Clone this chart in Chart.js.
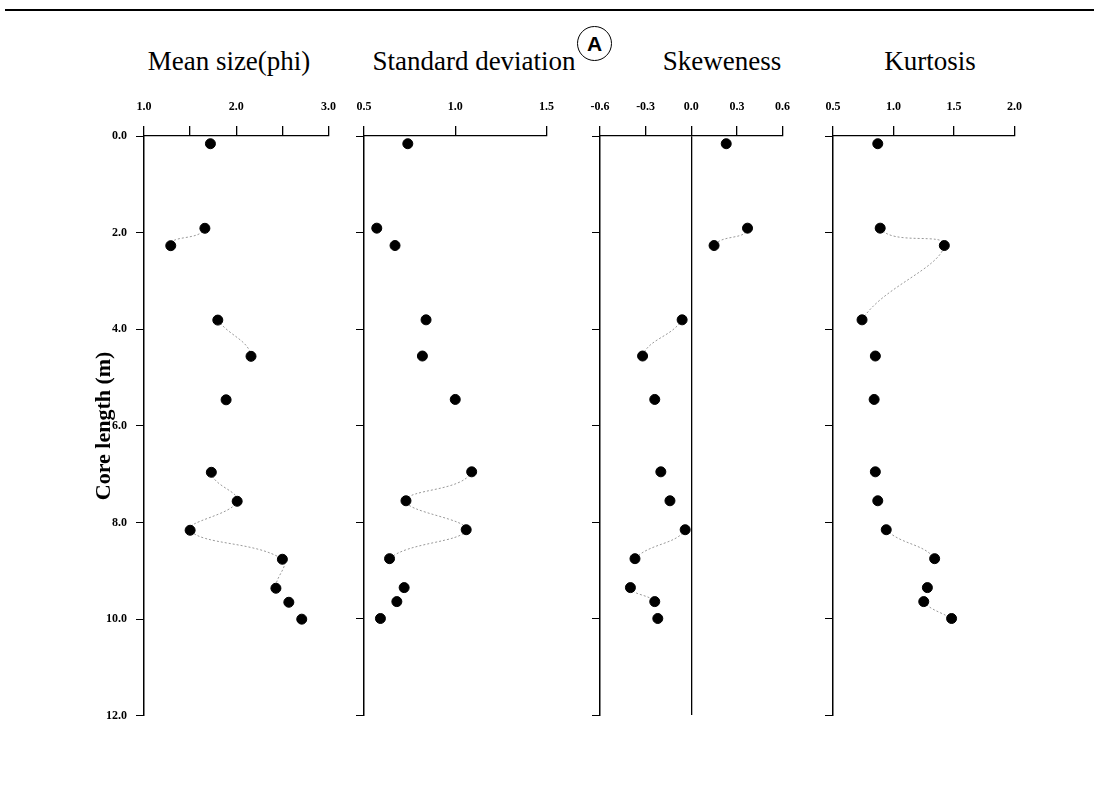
<!DOCTYPE html>
<html>
<head>
<meta charset="utf-8">
<script src="https://cdn.jsdelivr.net/npm/chart.js@4.4.1/dist/chart.umd.min.js"></script>
<style>
  body { margin: 0; background: #fff; }
  #wrap { position: relative; width: 1094px; height: 790px; overflow: hidden; }
  canvas { position: absolute; }
  .titulo { position: absolute; font-family: 'Liberation Serif', serif; font-size: 27px; color: #000; white-space: nowrap; transform: translateX(-50%); }
</style>
</head>
<body>
<div id="wrap">
  <div style="position:absolute;left:5px;top:9px;width:1089px;height:2px;background:#000"></div>
  <div style="position:absolute;left:577px;top:26px;width:33px;height:33px;border:1.5px solid #000;border-radius:50%;font:bold 21px 'Liberation Sans',sans-serif;text-align:center;line-height:34px">A</div>
  <div class="titulo" style="left:229px;top:46px">Mean size(phi)</div>
  <div class="titulo" style="left:474px;top:46px">Standard deviation</div>
  <div class="titulo" style="left:722px;top:46px">Skeweness</div>
  <div class="titulo" style="left:930px;top:46px">Kurtosis</div>
  <canvas id="media" width="268" height="642" style="left:80px;top:90px"></canvas>
  <canvas id="desvio" width="224" height="635" style="left:342px;top:90px"></canvas>
  <canvas id="assimetria" width="224" height="635" style="left:578px;top:90px"></canvas>
  <canvas id="curtose" width="223" height="635" style="left:811px;top:90px"></canvas>
</div>
<script>
// profundidade das amostras (m)
const depths = [0.16, 1.91, 2.27, 3.81, 4.56, 5.46, 6.96, 7.56, 8.16, 8.76, 9.36, 9.65, 10.0];

const meanSize = [1.72, 1.66, 1.29, 1.80, 2.16, 1.89, 1.73, 2.01, 1.50, 2.50, 2.43, 2.57, 2.71];
const stdDev   = [0.74, 0.57, 0.67, 0.84, 0.82, 1.00, 1.09, 0.73, 1.06, 0.64, 0.72, 0.68, 0.59];
const skewness = [0.23, 0.37, 0.15, -0.06, -0.32, -0.24, -0.20, -0.14, -0.04, -0.37, -0.40, -0.24, -0.22];
const kurtosis = [0.87, 0.89, 1.42, 0.74, 0.85, 0.84, 0.85, 0.87, 0.94, 1.34, 1.28, 1.25, 1.48];

// eixos x: [min, max, passo]
const meanAxis = [1.0, 3.0, 0.5];
const stdAxis  = [0.5, 1.5, 0.5];
const skewAxis = [-0.6, 0.6, 0.3];
const kurtAxis = [0.5, 2.0, 0.5];

const depthAxis = [0, 12, 2];

// trechos da linha que aparecem (indice do ponto inicial)
const meanSegments = [1, 3, 6, 7, 8, 9];
const stdSegments  = [6, 7, 8];
const skewSegments = [1, 3, 8, 10];
const kurtSegments = [1, 2, 8, 11];

const fonteTick = { family: 'Liberation Serif', size: 12, weight: 'bold' };

function montaPontos(valores) {
  return valores.map((v, i) => ({ x: v, y: depths[i] }));
}

function criaGrafico(id, valores, eixo, trechos, comRotulos, labelsInteiros, linhaZero) {
  const ctx = document.getElementById(id);
  return new Chart(ctx, {
    type: 'scatter',
    data: {
      datasets: [{
        data: montaPontos(valores),
        showLine: true,
        tension: 0.4,
        borderWidth: 1,
        borderDash: [2, 2],
        borderColor: '#999',
        segment: {
          borderColor: s => trechos.includes(s.p0DataIndex) ? '#999' : 'rgba(0,0,0,0)'
        },
        pointRadius: 5,
        pointHoverRadius: 5,
        pointBackgroundColor: '#000',
        pointBorderColor: '#000',
        clip: false
      }]
    },
    options: {
      responsive: false,
      animation: false,
      events: [],
      layout: { padding: { left: comRotulos ? 4 : 12, right: 12, top: 0, bottom: comRotulos ? 3 : 10 } },
      plugins: { legend: { display: false }, tooltip: { enabled: false } },
      scales: {
        x: {
          type: 'linear',
          position: 'top',
          min: eixo[0],
          max: eixo[1],
          ticks: {
            stepSize: eixo[2],
            color: '#000',
            font: fonteTick,
            padding: 12,
            maxRotation: 0,
            callback: v => {
              if (labelsInteiros && Math.abs(v - Math.round(v)) > 1e-9) return '';
              return (Math.abs(v) < 1e-9 ? 0 : v).toFixed(1);
            }
          },
          grid: {
            drawOnChartArea: linhaZero,
            tickLength: 10,
            color: c => (linhaZero && c.tick && Math.abs(c.tick.value) < 1e-9) ? '#000' : 'rgba(0,0,0,0)',
            tickColor: '#000',
            lineWidth: 1.3
          },
          border: { color: '#000', width: 1.3 },
          afterFit: s => { s.height = 46; }
        },
        y: {
          type: 'linear',
          reverse: true,
          min: depthAxis[0],
          max: depthAxis[1],
          ticks: {
            stepSize: depthAxis[2],
            display: comRotulos,
            color: '#000',
            font: fonteTick,
            padding: 9,
            callback: v => v.toFixed(1)
          },
          grid: { drawOnChartArea: false, tickLength: 8, color: '#000' },
          border: { color: '#000', width: 1.5 },
          title: {
            display: comRotulos,
            text: 'Core length (m)',
            color: '#000',
            font: { family: 'Liberation Serif', size: 22, weight: 'bold' },
            padding: { top: 7, bottom: 0 }
          },
          afterFit: s => { s.width = comRotulos ? 60 : 10; }
        }
      }
    }
  });
}

const graficoMedia = criaGrafico('media', meanSize, meanAxis, meanSegments, true, true, false);
const graficoDesvio = criaGrafico('desvio', stdDev, stdAxis, stdSegments, false, false, false);
const graficoAssimetria = criaGrafico('assimetria', skewness, skewAxis, skewSegments, false, false, true);
const graficoCurtose = criaGrafico('curtose', kurtosis, kurtAxis, kurtSegments, false, false, false);
</script>
</body>
</html>
